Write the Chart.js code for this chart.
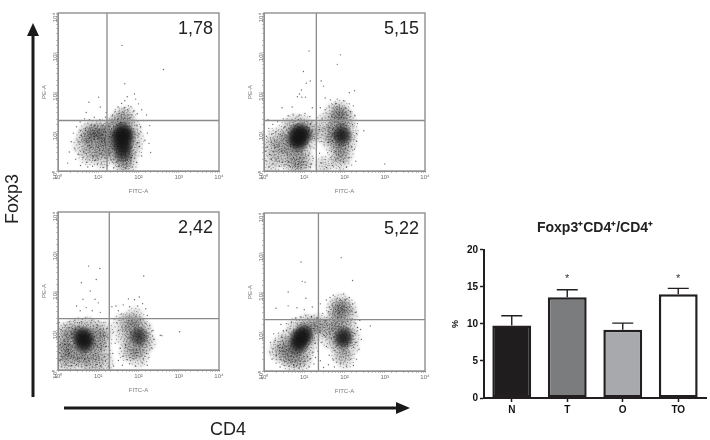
<!DOCTYPE html>
<html>
<head>
<meta charset="utf-8">
<script src="https://cdn.jsdelivr.net/npm/chart.js@4/dist/chart.umd.min.js"></script>
<style>
    body { margin: 0; background: #fff; width: 710px; height: 440px; overflow: hidden; position: relative; font-family: "Liberation Sans", Arial, sans-serif; }
    canvas { position: absolute; }
    .dots { filter: blur(0.35px); }
    .axisLabel { position: absolute; font-size: 18px; color: #222; line-height: 18px; }
    svg { position: absolute; left: 0; top: 0; }
</style>
</head>
<body>
<canvas id="dotA" class="dots" width="190" height="190" style="left:41px;top:5px"></canvas>
<canvas id="dotB" class="dots" width="190" height="190" style="left:247px;top:5px"></canvas>
<canvas id="dotC" class="dots" width="190" height="190" style="left:41px;top:204px"></canvas>
<canvas id="dotD" class="dots" width="190" height="190" style="left:247px;top:205px"></canvas>
<canvas id="barChart" width="260" height="215" style="left:450px;top:210px"></canvas>

<svg width="710" height="440">
    <path d="M33 397V34" stroke="#1a1a1a" stroke-width="3" fill="none"/>
    <path d="M33 23l6 13h-12z" fill="#1a1a1a"/>
    <path d="M64 408H398" stroke="#1a1a1a" stroke-width="3" fill="none"/>
    <path d="M410 408l-14 -6v12z" fill="#1a1a1a"/>
</svg>
<div class="axisLabel" style="left:-15px;top:190px;transform:rotate(-90deg);width:54px;text-align:center">Foxp3</div>
<div class="axisLabel" style="left:210px;top:420px">CD4</div>

<script>
// dot plots, values read as log10 of intensity (FITC-A, PE-A)
const panelLabels = ['1,78', '5,15', '2,42', '5,22'];
const gateX = [16.5, 20, 18.8, 22.5];
const gateY = [19, 19, 20, 20];
const decadeLabels = { 1: '10⁰', 10: '10¹', 100: '10²', 1000: '10³', 10000: '10⁴' };

const coreA = [[1.62,1.0],[1.6,.85],[1.66,.72],[1.55,.95],[1.7,.9],[1.58,.62],[1.63,.5],[1.5,.8]];
const midA = [[.75,1.0],[.9,1.05],[1.0,.95],[.85,.85],[1.1,1.05],[1.15,.85],[.95,.75],[.7,.85],[1.25,.95],[1.3,.75],[1.25,.6],[1.35,1.1],[1.45,1.2],[1.7,1.2],[1.85,1.05],[1.9,.8],[1.85,.55],[1.7,.4],[1.6,.3],[1.5,.45],[1.35,.45],[1.1,.55],[.9,.5],[1.6,.18],[1.75,.2],[1.55,1.35],[1.7,1.4],[.6,.65],[.75,.4],[1.1,.3]];
const specksA = [[1.59,3.18],[2.62,2.57],[1.66,2.21],[1.01,1.87],[.77,1.74],[1.9,1.95],[1.93,1.82],[2.0,1.7],[1.72,1.88],[1.66,1.78],[1.58,1.71],[1.49,1.62],[1.81,1.63],[1.88,1.52],[1.42,1.51],[1.97,1.45],[2.08,1.55],[1.36,1.42],[1.52,1.46],[1.73,1.55],[2.2,1.42],[2.28,1.15],[2.22,.96],[2.12,1.28],[2.05,1.12],[2.16,.78],[2.3,.47],[2.02,.62],[2.08,.38],[1.95,.22],[1.85,.1],[1.68,.08],[1.5,.12],[1.38,.08],[1.22,.14],[1.12,.09],[.98,.18],[.86,.12],[.72,.22],[.62,.34],[.5,.42],[.42,.56],[.33,.74],[.28,.48],[.38,.96],[.46,1.12],[.55,1.24],[.66,1.32],[.78,1.3],[.9,1.36],[1.04,1.3],[1.18,1.36],[1.28,1.28],[.58,.9],[.64,.5],[.7,.74],[.8,.6],[.86,.38],[.94,.28],[1.04,.44],[1.08,.2],[1.2,.32],[1.28,.44],[1.18,.68],[.98,.6],[1.02,.84],[.92,1.16],[.82,1.16],[.68,1.08],[.56,1.02],[.52,.74],[1.12,1.16],[1.26,1.14],[1.34,1.24],[1.42,.36],[1.46,.22],[1.58,.32],[1.72,.28],[1.82,.34],[1.92,.46],[1.98,.72],[2.0,.94],[1.96,1.16],[1.86,1.28],[1.78,1.34],[1.62,1.48],[1.48,1.3],[1.56,1.22],[1.36,.9],[1.4,.62],[1.32,.28],[.44,.3],[.24,.2],[.56,.14],[.74,.1],[2.26,.7],[1.75,1.65],[1.65,1.6],[1.84,1.42],[1.05,1.62],[1.2,1.48],[.7,1.48]];

const coreB = [[.82,.95],[.92,1.0],[.78,.82],[.9,.82],[.85,.7],[.98,.9],[1.93,.98],[1.95,.85]];
const midB = [[.65,.85],[.6,.65],[.75,.55],[.95,.55],[1.1,.8],[1.1,1.05],[.95,1.2],[.75,1.2],[.6,1.05],[.45,.7],[.35,.45],[.55,.35],[.8,.3],[1.0,.3],[.3,.85],[.15,.6],[.2,.2],[.7,.12],[.95,.12],[1.8,.85],[1.8,1.1],[2.1,1.0],[2.08,.75],[1.9,.65],[1.85,.45],[2.0,.45],[1.7,.7],[1.72,1.0],[1.85,1.35],[1.95,1.4],[1.9,1.55],[2.05,1.3],[1.75,1.5],[1.55,.9],[1.55,1.25],[1.9,.25],[1.25,1.0],[1.5,.15]];
const specksB = [[1.12,3.04],[.98,2.52],[1.9,2.94],[1.82,2.7],[3.0,.18],[1.15,2.28],[1.05,2.22],[.93,2.05],[.88,1.95],[.83,1.88],[1.03,1.87],[.94,1.87],[1.42,2.28],[1.48,2.15],[2.25,2.03],[2.12,1.98],[2.48,1.02],[2.3,.75],[1.52,1.85],[1.65,1.8],[1.82,1.82],[1.98,1.78],[2.12,1.7],[2.22,1.65],[2.26,1.4],[2.32,1.2],[2.3,.95],[2.25,.55],[2.28,.25],[2.18,.15],[2.05,.1],[1.88,.08],[1.7,.14],[1.55,.09],[1.42,.2],[1.38,.45],[1.42,.75],[1.38,1.05],[1.44,1.32],[1.4,1.6],[1.52,1.55],[1.62,1.62],[1.78,1.7],[1.68,1.38],[1.62,1.1],[1.6,.72],[1.58,.46],[1.66,.34],[1.78,.28],[1.98,.22],[2.12,.34],[2.18,.62],[2.2,1.18],[2.15,1.5],[2.02,1.6],[1.15,.1],[1.05,.14],[.92,.08],[.78,.12],[.65,.1],[.52,.16],[.38,.12],[.22,.18],[.12,.1],[.05,.26],[.14,.42],[.08,.6],[.18,.72],[.06,.88],[.12,1.08],[.22,1.18],[.34,1.25],[.48,1.32],[.6,1.4],[.72,1.44],[.88,1.42],[1.02,1.46],[1.14,1.38],[1.24,1.28],[1.3,1.08],[1.26,.82],[1.3,.55],[1.22,.32],[1.18,.18],[.3,.28],[.44,.5],[.28,.6],[.4,.92],[.5,1.1],[.46,.22],[.6,.22],[.7,.3],[.86,.18],[.98,.22],[1.1,.4],[1.14,.62],[1.24,.58],[.3,1.0],[.68,1.28],[.86,1.3],[1.06,1.26],[1.16,1.2],[.18,.3],[.24,.48],[.2,.94],[.04,.5],[.7,1.62],[.45,1.6],[1.2,1.6],[.1,1.3]];

const coreC = [[.62,.78],[.7,.85],[.55,.88],[.6,.65],[.72,.68],[2.0,.85]];
const midC = [[.35,.85],[.3,.6],[.42,.45],[.6,.4],[.8,.45],[.95,.6],[1.0,.85],[.92,1.02],[.75,1.1],[.5,1.08],[.32,1.02],[.2,.75],[.15,.45],[.3,.25],[.55,.2],[.75,.25],[1.1,.75],[1.15,1.0],[1.1,.45],[.1,.95],[.1,.55],[.12,.2],[.9,.15],[1.15,.18],[1.85,.95],[1.85,.7],[2.12,.85],[2.1,1.05],[1.95,1.15],[1.9,.5],[2.08,.55],[2.0,.3],[1.9,1.35],[1.78,1.2],[1.75,.45],[2.2,.7],[1.65,.85],[1.6,1.2]];
const specksC = [[.76,2.63],[1.04,2.57],[.95,2.29],[2.13,2.38],[.58,2.21],[.8,2.0],[.62,1.79],[.92,1.79],[.46,1.62],[.7,1.58],[1.0,1.7],[.55,1.5],[.85,1.5],[1.05,1.46],[2.54,.88],[3.02,.97],[2.58,.87],[1.75,1.8],[1.9,1.78],[2.02,1.85],[2.1,1.68],[1.62,1.65],[1.44,1.62],[1.34,1.6],[1.5,1.5],[1.78,1.6],[1.98,1.62],[2.18,1.55],[2.22,1.38],[1.38,1.3],[1.46,1.2],[1.58,1.42],[2.28,1.12],[2.36,1.0],[2.38,.78],[2.32,.56],[2.26,.32],[2.22,.12],[2.1,.18],[1.92,.1],[1.78,.16],[1.6,.12],[1.5,.24],[1.38,.1],[1.36,.42],[1.42,.68],[1.38,.96],[1.5,1.0],[1.55,.55],[1.62,.35],[1.72,.26],[1.68,.62],[1.8,.94],[2.05,1.28],[2.18,1.18],[2.2,.42],[2.12,.28],[1.25,.1],[1.18,.22],[1.06,.1],[.95,.14],[.85,.08],[.7,.12],[.58,.08],[.46,.14],[.32,.1],[.2,.14],[.08,.08],[.03,.24],[.12,.3],[.04,.44],[.06,.64],[.03,.84],[.08,1.02],[.03,1.2],[.18,1.12],[.28,1.22],[.42,1.26],[.58,1.22],[.68,1.32],[.84,1.26],[1.0,1.24],[1.14,1.2],[1.22,1.05],[1.24,.82],[1.2,.6],[1.26,.38],[1.15,.35],[1.02,.3],[.88,.3],[.22,.52],[.16,.65],[.26,.42],[.38,.32],[.48,.28],[.66,.28],[.94,.42],[1.06,.52],[1.14,.86],[.98,1.14],[.2,.9]];

const coreD = [[.9,.87],[.98,.98],[.84,.8],[1.02,.88],[.92,.72],[.82,.62],[1.99,.9],[1.96,.78]];
const midD = [[.65,.85],[.6,.62],[.62,.42],[.8,.35],[1.0,.45],[1.1,.7],[1.2,.95],[1.2,1.15],[1.05,1.2],[.8,1.1],[.45,.7],[.5,.4],[.7,.22],[.95,.25],[.35,.5],[1.85,.95],[1.85,.7],[1.9,.45],[2.15,.85],[2.12,.6],[2.1,1.05],[2.0,.3],[1.9,1.15],[1.75,1.25],[1.82,1.4],[1.92,1.55],[2.05,1.6],[1.9,1.72],[1.78,1.6],[2.1,1.4],[1.65,1.05],[1.65,.8],[1.45,1.1],[1.35,1.22]];
const specksD = [[.92,2.76],[.95,2.27],[1.02,2.25],[1.92,2.87],[.6,2.0],[2.2,2.29],[.3,1.59],[1.04,1.84],[1.64,1.86],[2.64,1.14],[.6,1.65],[.82,1.6],[1.0,1.55],[1.2,1.62],[1.4,1.7],[1.55,1.8],[1.72,1.92],[1.98,1.95],[2.12,1.86],[2.2,1.7],[2.28,1.48],[2.38,1.28],[2.4,1.05],[2.42,.8],[2.36,.55],[2.3,.3],[2.22,.14],[2.05,.12],[1.9,.18],[1.75,.1],[1.6,.16],[1.48,.09],[1.4,.26],[1.34,.5],[1.42,.72],[1.5,.9],[1.38,.98],[1.52,1.28],[1.6,1.5],[1.7,1.7],[1.55,.62],[1.62,.4],[1.72,.28],[1.76,.52],[2.25,.95],[2.28,1.2],[2.22,.6],[2.15,.3],[2.28,.72],[1.24,.18],[1.12,.1],[1.0,.14],[.88,.08],[.75,.1],[.62,.12],[.5,.14],[.4,.1],[.3,.2],[.2,.3],[.15,.46],[.22,.56],[.16,.72],[.28,.78],[.24,.94],[.36,.96],[.48,1.02],[.42,1.18],[.56,1.2],[.68,1.22],[.78,1.34],[.92,1.36],[1.04,1.4],[1.18,1.38],[1.32,1.34],[1.26,.7],[1.2,.46],[1.14,.3],[1.28,.34],[1.08,.36],[.3,.4],[.42,.3],[.52,.24],[.36,.64],[.44,.86],[.56,1.02],[.74,.16],[.9,.18],[1.02,.24],[2.05,1.82],[1.82,1.84],[2.18,1.52],[1.62,1.62],[1.46,1.46],[2.32,1.1]];

const panelCores = [coreA, coreB, coreC, coreD];
const panelMids = [midA, midB, midC, midD];
const panelSpecks = [specksA, specksB, specksC, specksD];
const panelCanvases = ['dotA', 'dotB', 'dotC', 'dotD'];

// bar chart
const barCategories = ['N', 'T', 'O', 'TO'];
const barValues = [9.8, 13.6, 9.2, 14.0];
const barErrorTops = [11.1, 14.6, 10.1, 14.8];
const barStars = ['', '*', '', '*'];
const barColors = ['#1f1d1e', '#7b7c7e', '#a8a9ac', '#ffffff'];
const barMax = 20;

const fontName = '"Liberation Sans", Arial, sans-serif';
const toPoints = list => list.map(p => ({ x: 10 ** p[0], y: 10 ** p[1] }));

// point glyphs: a soft patch with some grain on it, for the crowded parts of a plot
const grain = [[-9,-2],[-8,3],[-7,-6],[-6,0],[-6,6],[-5,-3],[-4,3],[-4,-8],[-3,-1],[-3,8],[-2,5],[-2,-5],[-1,1],[-1,-9],[0,-3],[0,4],[0,9],[1,-6],[1,0],[2,6],[2,-2],[3,-8],[3,3],[4,-4],[4,1],[5,7],[5,-1],[6,-6],[6,3],[7,-2],[8,4],[9,0],[-1,-4],[2,2],[-3,2],[3,-5]];

function makeGlyph(size, alpha, grainAlpha) {
    const c = document.createElement('canvas');
    c.width = size;
    c.height = size;
    const g = c.getContext('2d');
    const mid = size / 2;
    const fill = g.createRadialGradient(mid, mid, 0, mid, mid, mid);
    fill.addColorStop(0, 'rgba(20,20,20,' + alpha + ')');
    fill.addColorStop(0.6, 'rgba(20,20,20,' + alpha * 0.6 + ')');
    fill.addColorStop(1, 'rgba(20,20,20,0)');
    g.fillStyle = fill;
    g.fillRect(0, 0, size, size);
    g.fillStyle = 'rgba(15,15,15,' + grainAlpha + ')';
    grain.forEach(d => g.fillRect(mid + d[0], mid + d[1], 1, 1));
    return c;
}

const midGlyph = makeGlyph(24, 0.17, 0.4);
const coreGlyph = makeGlyph(21, 0.72, 0.4);

function dotScale(title, vertical) {
    return {
        type: 'logarithmic',
        min: 1,
        max: 10000,
        afterFit: scale => {
            if (vertical) scale.width = 17;
            else scale.height = 24;
        },
        grid: { drawOnChartArea: false, tickLength: 2, tickColor: '#9a9a9a', tickWidth: 0.6 },
        border: { color: '#8f8f8f', width: 1 },
        ticks: {
            autoSkip: false,
            padding: 1,
            minRotation: vertical ? 90 : 0,
            maxRotation: vertical ? 90 : 0,
            color: '#707070',
            font: { size: 6, family: fontName },
            callback: value => decadeLabels[value] || ''
        },
        title: { display: true, text: title, color: '#777', padding: 0, font: { size: 6, family: fontName } }
    };
}

const framePlugin = {
    id: 'frame',
    afterDraw(chart, args, opts) {
        const { ctx, chartArea: a } = chart;
        ctx.save();
        ctx.strokeStyle = '#8f8f8f';
        ctx.lineWidth = 1.4;
        ctx.strokeRect(a.left, a.top, a.right - a.left, a.bottom - a.top);
        ctx.fillStyle = '#222';
        ctx.font = '18px ' + fontName;
        ctx.textAlign = 'right';
        ctx.textBaseline = 'middle';
        ctx.fillText(opts.label, a.right - 6, a.top + 16);
        ctx.restore();
    }
};

panelCanvases.forEach((id, i) => {
    new Chart(document.getElementById(id), {
        type: 'scatter',
        data: {
            datasets: [
                { data: toPoints(panelCores[i]), pointStyle: coreGlyph, pointRadius: 5, pointRotation: c => c.dataIndex * 67, order: 2 },
                { data: toPoints(panelMids[i]), pointStyle: midGlyph, pointRadius: 5, pointRotation: c => c.dataIndex * 67, order: 3 },
                { data: toPoints(panelSpecks[i]), pointRadius: 0.7, pointBorderWidth: 0, pointBackgroundColor: 'rgba(30,30,30,0.65)', order: 1 },
                { data: [{ x: gateX[i], y: 1 }, { x: gateX[i], y: 10000 }], showLine: true, pointRadius: 0, borderColor: '#8a8a8a', borderWidth: 1.3, order: 0 },
                { data: [{ x: 1, y: gateY[i] }, { x: 10000, y: gateY[i] }], showLine: true, pointRadius: 0, borderColor: '#8a8a8a', borderWidth: 1.3, order: 0 }
            ]
        },
        options: {
            responsive: false,
            animation: false,
            layout: { padding: { top: 8, right: 12 } },
            plugins: { legend: { display: false }, tooltip: { enabled: false }, frame: { label: panelLabels[i] } },
            scales: { x: dotScale('FITC-A', false), y: dotScale('PE-A', true) }
        },
        plugins: [framePlugin]
    });
});

const errorPlugin = {
    id: 'errorBars',
    afterDatasetsDraw(chart) {
        const { ctx, scales } = chart;
        const bars = chart.getDatasetMeta(0).data;
        ctx.save();
        ctx.strokeStyle = '#231f20';
        ctx.lineWidth = 1.4;
        ctx.fillStyle = '#333';
        ctx.textAlign = 'center';
        ctx.textBaseline = 'middle';
        ctx.font = '11px ' + fontName;
        bars.forEach((bar, i) => {
            const top = scales.y.getPixelForValue(barErrorTops[i]);
            const base = scales.y.getPixelForValue(barValues[i]);
            ctx.beginPath();
            ctx.moveTo(bar.x, base);
            ctx.lineTo(bar.x, top);
            ctx.moveTo(bar.x - 10.5, top);
            ctx.lineTo(bar.x + 10.5, top);
            ctx.stroke();
            if (barStars[i]) ctx.fillText(barStars[i], bar.x, scales.y.getPixelForValue(16.1));
        });
        ctx.restore();
    }
};

new Chart(document.getElementById('barChart'), {
    type: 'bar',
    data: {
        labels: barCategories,
        datasets: [
            {
                data: barValues,
                backgroundColor: barColors,
                borderColor: '#231f20',
                borderWidth: 2.5,
                borderSkipped: false,
                barPercentage: 0.7,
                categoryPercentage: 1
            }
        ]
    },
    options: {
        responsive: false,
        animation: false,
        layout: { padding: { right: 4 } },
        plugins: {
            legend: { display: false },
            tooltip: { enabled: false },
            title: {
                display: true,
                fullSize: false,
                text: 'Foxp3⁺CD4⁺/CD4⁺',
                color: '#222',
                font: { size: 14, weight: 'bold', family: fontName },
                padding: { top: 10, bottom: 13 }
            }
        },
        scales: {
            x: {
                afterFit: scale => { scale.height = 27; },
                grid: { offset: false, drawOnChartArea: false, tickColor: '#231f20', tickWidth: 1.5, tickLength: 4 },
                border: { color: '#231f20', width: 2 },
                ticks: { color: '#111', padding: 2, font: { size: 10, weight: 'bold', family: fontName } }
            },
            y: {
                min: 0,
                max: barMax,
                afterFit: scale => { scale.width = 34; },
                grid: { drawOnChartArea: false, tickColor: '#231f20', tickWidth: 1.5, tickLength: 4 },
                border: { color: '#231f20', width: 2 },
                ticks: { stepSize: 5, color: '#111', padding: 2, font: { size: 10, weight: 'bold', family: fontName } },
                title: { display: true, text: '%', color: '#111', padding: 0, font: { size: 9, weight: 'bold', family: fontName } }
            }
        }
    },
    plugins: [errorPlugin]
});
</script>
</body>
</html>
